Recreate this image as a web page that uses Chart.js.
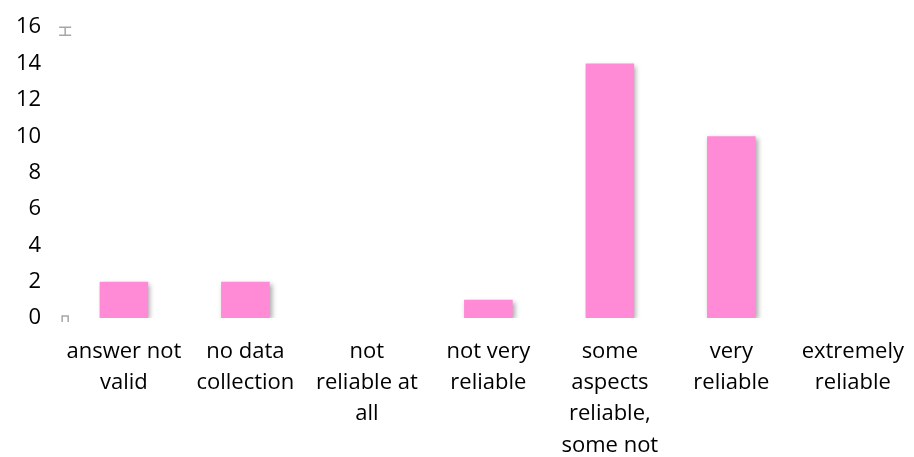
<!DOCTYPE html>
<html>
<head>
<meta charset="utf-8">
<script src="https://cdn.jsdelivr.net/npm/chart.js@4/dist/chart.umd.min.js"></script>
<style>
  html, body { margin: 0; padding: 0; background: #fff; }
  #wrap { width: 914px; height: 457px; }
</style>
</head>
<body>
<div id="wrap"><canvas id="chart"></canvas></div>
<script>
// Chart labels
var categories = [
  ['answer not', 'valid'],
  ['no data', 'collection'],
  ['not', 'reliable at', 'all'],
  ['not very', 'reliable'],
  ['some', 'aspects', 'reliable,', 'some not'],
  ['very', 'reliable'],
  ['extremely', 'reliable']
];

// Chart data
var counts = [2, 2, 0, 1, 14, 10, 0];

// Axis range
var yMin = 0;
var yMax = 16;
var yStep = 2;

// Soft shadow behind the bars
var barShadow = {
  id: 'barShadow',
  beforeDatasetsDraw: function (chart) {
    var ctx = chart.ctx;
    ctx.save();
    ctx.shadowColor = 'rgba(0,0,0,0.35)';
    ctx.shadowBlur = 5;
    ctx.shadowOffsetX = 2;
    ctx.shadowOffsetY = 2;
  },
  afterDatasetsDraw: function (chart) {
    chart.ctx.restore();
  }
};

// Small grey marks at the ends of the value axis
var axisMarks = {
  id: 'axisMarks',
  afterDraw: function (chart) {
    var ctx = chart.ctx;
    var y = chart.scales.y;
    var x = chart.chartArea.left + 2;
    var top = y.getPixelForValue(yMax) + 4;
    var bottom = y.getPixelForValue(yMin);
    ctx.save();
    ctx.strokeStyle = '#a6a6a6';
    ctx.lineWidth = 1.5;
    ctx.beginPath();
    ctx.moveTo(x - 6, top - 4); ctx.lineTo(x + 6, top - 4);
    ctx.moveTo(x, top - 4); ctx.lineTo(x, top + 4);
    ctx.moveTo(x - 6, top + 4); ctx.lineTo(x + 6, top + 4);
    ctx.moveTo(x - 3, bottom + 4); ctx.lineTo(x - 3, bottom - 2);
    ctx.lineTo(x + 3, bottom - 2); ctx.lineTo(x + 3, bottom + 4);
    ctx.stroke();
    ctx.restore();
  }
};

Chart.defaults.font.family = "'Open Sans', 'Noto Sans', sans-serif";
Chart.defaults.font.size = 22;
Chart.defaults.color = '#000';

var config = {
  type: 'bar',
  data: {
    labels: categories,
    datasets: [{
      data: counts,
      backgroundColor: '#FF8AD6',
      borderWidth: 0,
      barPercentage: 0.4,
      categoryPercentage: 1
    }]
  },
  options: {
    responsive: true,
    maintainAspectRatio: false,
    animation: false,
    layout: { padding: { top: 12, right: 0, left: 2, bottom: -14 } },
    plugins: {
      legend: { display: false },
      tooltip: { enabled: false },
      title: { display: false }
    },
    scales: {
      x: {
        grid: { display: false },
        border: { display: false },
        ticks: { maxRotation: 0, autoSkip: false, padding: 10, font: { size: 22, lineHeight: 1.42 } }
      },
      y: {
        min: yMin,
        max: yMax,
        grid: { display: false },
        border: { display: false },
        ticks: { stepSize: yStep, padding: 14 }
      }
    }
  },
  plugins: [barShadow, axisMarks]
};

var myChart = new Chart(document.getElementById('chart'), config);
</script>
</body>
</html>
